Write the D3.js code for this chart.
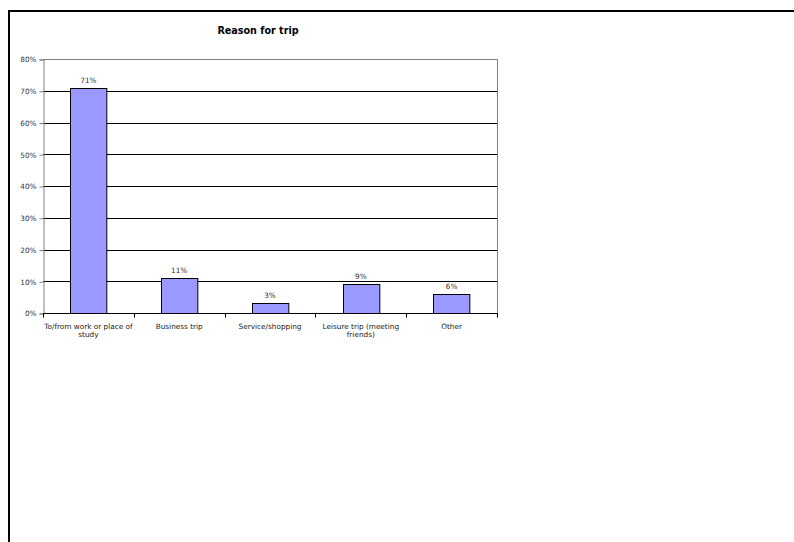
<!DOCTYPE html>
<html>
<head>
<meta charset="utf-8">
<script src="https://cdn.jsdelivr.net/npm/d3@7"></script>
<style>
  html, body { margin: 0; padding: 0; background: #fff; }
  svg { display: block; }
</style>
</head>
<body>
<svg id="chart" width="794" height="542"></svg>
<script>
// Trip purpose survey results (share of respondents)
const categories = [
  ["To/from work or place of", "study"],
  ["Business trip"],
  ["Service/shopping"],
  ["Leisure trip (meeting", "friends)"],
  ["Other"]
];
const shares = [0.71, 0.11, 0.03, 0.09, 0.06];
const yTicks = [0, 0.1, 0.2, 0.3, 0.4, 0.5, 0.6, 0.7, 0.8];
const chartTitle = "Reason for trip";

const svg = d3.select("#chart");
const font = "Verdana, 'DejaVu Sans', sans-serif";
const small = 7.3;

// outer frame (open on right and bottom)
svg.append("path")
  .attr("d", "M9,542 V11 H794")
  .attr("fill", "none").attr("stroke", "#000").attr("stroke-width", 2);

const plot = { left: 43, right: 497, top: 59, bottom: 313 };

const x = d3.scaleBand()
  .domain(d3.range(categories.length))
  .range([plot.left, plot.right])
  .paddingInner(0.6).paddingOuter(0.3);

const y = d3.scaleLinear().domain([0, 0.8]).range([plot.bottom, plot.top]);

// gridlines
svg.append("g").selectAll("line")
  .data(yTicks.filter(t => t > 0 && t < 0.8))
  .join("line")
  .attr("x1", plot.left).attr("x2", plot.right)
  .attr("y1", d => Math.round(y(d)) + 0.5).attr("y2", d => Math.round(y(d)) + 0.5)
  .attr("stroke", "#000").attr("stroke-width", 1);

// plot area border (top and right)
svg.append("path")
  .attr("d", `M${plot.left},${Math.round(plot.top) + 0.5} H${plot.right + 0.5} V${plot.bottom}`)
  .attr("fill", "none").attr("stroke", "#808080").attr("stroke-width", 1);

// bars
svg.append("g").selectAll("rect")
  .data(shares)
  .join("rect")
  .attr("x", (d, i) => Math.round(x(i)) + 0.5)
  .attr("y", d => Math.round(y(d)) + 0.5)
  .attr("width", x.bandwidth())
  .attr("height", d => Math.round(y(0)) - Math.round(y(d)))
  .attr("fill", "#9999ff")
  .attr("stroke", "#000").attr("stroke-width", 1);

// value labels
svg.append("g").selectAll("text")
  .data(shares)
  .join("text")
  .attr("x", (d, i) => x(i) + x.bandwidth() / 2)
  .attr("y", d => y(d) - 5)
  .attr("text-anchor", "middle")
  .attr("font-family", font).attr("font-size", small).attr("fill", "#333")
  .text(d => d3.format(".0%")(d));

// y axis
const yAxis = d3.axisLeft(y).tickValues(yTicks).tickFormat(d3.format(".0%")).tickSize(4).tickPadding(3);
const gy = svg.append("g").attr("transform", `translate(${plot.left + 0.5},0.5)`).call(yAxis);
gy.select(".domain").attr("stroke", "#808080").attr("stroke-width", 1);
gy.selectAll(".tick line").attr("stroke", "#808080");
gy.selectAll("text").attr("font-family", font).attr("font-size", small).attr("fill", "#333");

// x axis with ticks between categories
const xb = d3.scaleLinear().domain([0, categories.length]).range([plot.left, plot.right]);
const gx = svg.append("g").attr("transform", `translate(0,${plot.bottom + 0.5})`);
gx.append("line").attr("x1", plot.left).attr("x2", plot.right + 1)
  .attr("stroke", "#000");
gx.selectAll("line.tk").data(d3.range(categories.length + 1)).join("line")
  .attr("class", "tk")
  .attr("x1", d => Math.round(xb(d)) + 0.5).attr("x2", d => Math.round(xb(d)) + 0.5)
  .attr("y1", 0).attr("y2", 4).attr("stroke", "#000");

const labels = gx.selectAll("text").data(categories).join("text")
  .attr("text-anchor", "middle")
  .attr("font-family", font).attr("font-size", small).attr("fill", "#222");
labels.selectAll("tspan").data((d, i) => d.map(line => ({ line, i }))).join("tspan")
  .attr("x", d => x(d.i) + x.bandwidth() / 2)
  .attr("y", (d, j) => 15 + j * 8.5)
  .text(d => d.line);

// title
svg.append("text")
  .attr("x", 258).attr("y", 34)
  .attr("text-anchor", "middle")
  .attr("font-family", font).attr("font-size", 9.6).attr("font-weight", "bold")
  .text(chartTitle);
</script>
</body>
</html>
